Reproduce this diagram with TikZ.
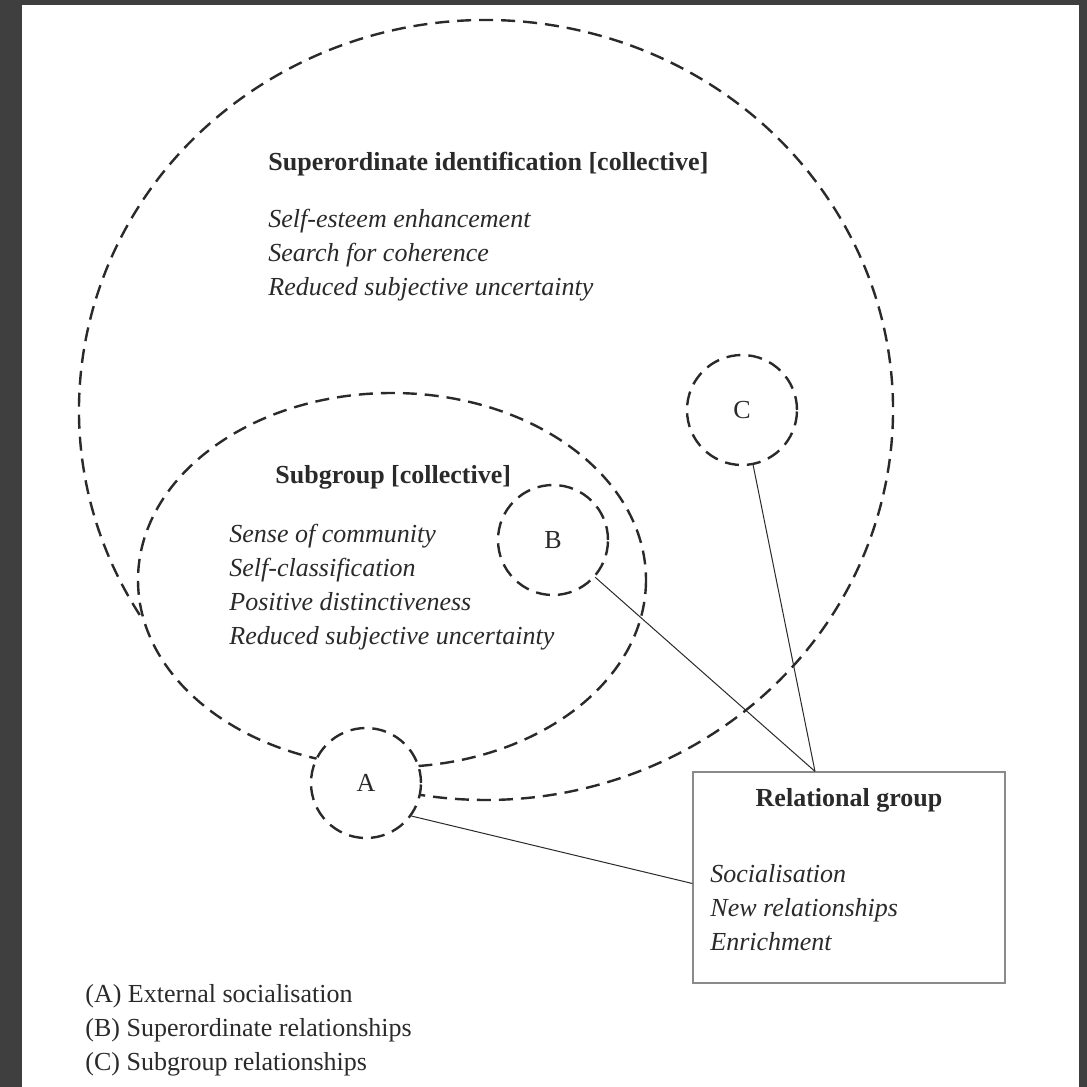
\documentclass[tikz,border=0pt]{standalone}
\usepackage{fontspec}
\setmainfont{Liberation Serif}
\usetikzlibrary{positioning}
\definecolor{framegray}{HTML}{3F3F3F}
\definecolor{ink}{HTML}{2A2A2A}
\definecolor{boxline}{HTML}{8A8A8A}
\begin{document}
\begin{tikzpicture}[x=0.5pt, y=-0.5pt,
        every node/.style={text=ink, font=\fontsize{13}{17}\selectfont},
        dashline/.style={draw=ink, line width=1.2pt, dash pattern=on 7pt off 4pt},
        member/.style={circle, dashline, fill=white, minimum size=55pt, inner sep=0pt},
        heading/.style={anchor=west, inner sep=0pt, font=\fontsize{13}{17}\selectfont\bfseries},
        itemlist/.style={anchor=west, inner sep=0pt, align=left, font=\fontsize{13}{17}\selectfont\itshape},
        link/.style={draw=ink, line width=0.5pt}]
        % Page and frame
        \fill[framegray] (0,0) rectangle (1087,1087);
        \fill[white] (22,5) rectangle (1079,1087);
        \useasboundingbox (0,0) rectangle (1087,1087);

        % Superordinate group (open near A)
        \draw[dashline] (486,410) ++(148.3:407 and 390)
            arc [start angle=148.3, end angle=467, x radius=407, y radius=390];
        \node[heading] (suptitle) at (268,164) {Superordinate identification [collective]};
        \node[itemlist] (suplist) at (268,255) {Self-esteem enhancement\\Search for coherence\\Reduced subjective uncertainty};

        % Subgroup
        \draw[dashline] (392,580) ellipse [x radius=254, y radius=187];
        \node[heading] (subtitle) at (275,477) {Subgroup [collective]};
        \node[itemlist] (sublist) at (229,587) {Sense of community\\Self-classification\\Positive distinctiveness\\Reduced subjective uncertainty};

        % Relationship circles
        \node[member] (A) at (366,783) {A};
        \node[member] (B) at (553,540) {B};
        \node[member] (C) at (742,410) {C};

        % Relational group box
        \node[draw=boxline, line width=0.6pt, minimum width=156pt, minimum height=105.5pt, inner sep=0pt] (box) at (849,877.5) {};
        \node[font=\fontsize{13}{17}\selectfont\bfseries, inner sep=0pt] (boxtitle) at (849,800) {Relational group};
        \node[itemlist] (boxlist) at (710,908) {Socialisation\\New relationships\\Enrichment};
        \coordinate (hub) at ([xshift=-17pt]box.north);

        % Links
        \draw[link] (B) -- (hub);
        \draw[link] (C) -- (hub);
        \draw[link] (A.-36) -- ([yshift=-3pt]box.west);

        % Legend
        \node[anchor=west, inner sep=0pt, align=left] (legend) at (85,1030) {(A) External socialisation\\(B) Superordinate relationships\\(C) Subgroup relationships};
    \end{tikzpicture}
\end{document}
